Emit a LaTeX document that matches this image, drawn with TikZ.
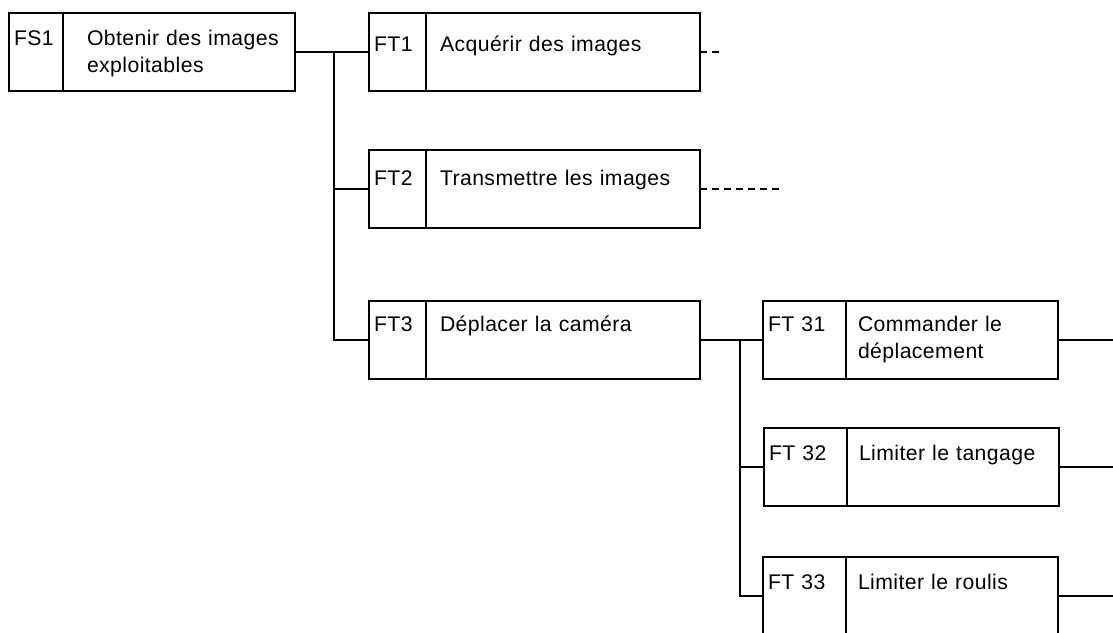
\documentclass[tikz,border=0pt]{standalone}
\usepackage{fontspec}
\setmainfont{Liberation Sans}[LetterSpace=2]
\tikzset{
  fbox/.style={draw, anchor=north west, outer sep=0pt, inner ysep=0pt, align=left, text height=16pt, text depth=23pt},
  fcode/.style={fbox, inner xsep=2.5pt, text width=#1},
  flabel/.style n args={2}{fbox, inner xsep=#1, text width=#2},
  suite/.style={dash pattern=on 3.5pt off 2.5pt},
}

\begin{document}
\begin{tikzpicture}[x=0.5pt,y=-0.5pt,line width=1pt,font=\fontsize{10.6}{13.5}\selectfont]
        \useasboundingbox (0,0) rectangle (1113,632);
        % fonction de service
        \node[fcode=22pt] (fs1c) at (9,13) {FS1};
        \node[flabel={12pt}{92pt}] (fs1l) at (fs1c.north east) {\mbox{Obtenir des images}\\exploitables};
        % fonctions techniques
        \node[fcode=23.5pt,text height=19pt,text depth=20pt] (ft1c) at (369,13) {FT1};
        \node[flabel={7pt}{123pt},text height=19pt,text depth=20pt] (ft1l) at (ft1c.north east) {Acquérir des images};
        \node[fcode=23.5pt,text height=17.5pt,text depth=21.5pt] (ft2c) at (369,150) {FT2};
        \node[flabel={7pt}{123pt},text height=17.5pt,text depth=21.5pt] (ft2l) at (ft2c.north east) {Transmettre les images};
        \node[fcode=23.5pt,text height=15pt,text depth=24pt] (ft3c) at (369,301) {FT3};
        \node[flabel={7pt}{123pt},text height=15pt,text depth=24pt] (ft3l) at (ft3c.north east) {Déplacer la caméra};
        % sous-fonctions de FT3
        \node[fcode=36.5pt,text height=15pt,text depth=24pt] (ft31c) at (763,301) {FT 31};
        \node[flabel={6pt}{94pt},text height=15pt,text depth=24pt] (ft31l) at (ft31c.north east) {Commander le\\déplacement};
        \node[fcode=36.5pt] (ft32c) at (764,428) {FT 32};
        \node[flabel={6pt}{94pt}] (ft32l) at (ft32c.north east) {Limiter le tangage};
        \node[fcode=36.5pt] (ft33c) at (763,557) {FT 33};
        \node[flabel={6pt}{94pt}] (ft33l) at (ft33c.north east) {Limiter le roulis};
        % liaisons
        \coordinate (bus1) at (334,0);
        \coordinate (bus2) at (740,0);
        \coordinate (ft1x) at (719,0);
        \coordinate (ft2x) at (779,0);
        \coordinate (edge) at (1113,0);
        \draw (fs1l.east) -- (ft1c.west);
        \draw (bus1 |- ft1c.west) -- (bus1 |- ft3c.west) -- (ft3c.west);
        \draw (bus1 |- ft2c.west) -- (ft2c.west);
        \draw (ft3l.east) -- (ft31c.west);
        \draw (bus2 |- ft31c.west) -- (bus2 |- ft33c.west) -- (ft33c.west);
        \draw (bus2 |- ft32c.west) -- (ft32c.west);
        \draw[suite] (ft1l.east) -- (ft1l.east -| ft1x);
        \draw[suite] (ft2l.east) -- (ft2l.east -| ft2x);
        \draw (ft31l.east) -- (ft31l.east -| edge);
        \draw (ft32l.east) -- (ft32l.east -| edge);
        \draw (ft33l.east) -- (ft33l.east -| edge);
\end{tikzpicture}
\end{document}
